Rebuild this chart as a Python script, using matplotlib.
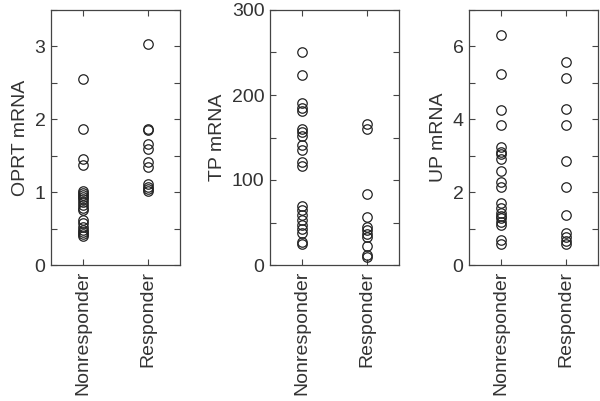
import numpy as np
import matplotlib.pyplot as plt
from matplotlib.ticker import MultipleLocator

plt.rcParams['font.family'] = ['Liberation Sans', 'DejaVu Sans']

groups = ['Nonresponder', 'Responder']

# OPRT mRNA
oprt_non = [2.55, 1.86, 1.45, 1.37, 1.02, 0.99, 0.96, 0.93, 0.90, 0.86, 0.82,
            0.78, 0.75, 0.62, 0.57, 0.52, 0.48, 0.45, 0.42, 0.40]
oprt_resp = [3.03, 1.87, 1.85, 1.66, 1.59, 1.42, 1.35, 1.11, 1.07, 1.04, 1.02]

# TP mRNA
tp_non = [250, 223, 190, 185, 181, 160, 156, 152, 141, 135, 121, 116,
          69, 65, 59, 53, 47, 42, 38, 27, 25]
tp_resp = [166, 160, 84, 57, 45, 41, 37, 33, 22, 12, 9]

# UP mRNA
up_non = [6.31, 5.23, 4.25, 3.83, 3.24, 3.10, 3.04, 2.90, 2.58, 2.28, 2.15,
          1.69, 1.56, 1.42, 1.34, 1.28, 1.19, 1.10, 0.70, 0.58]
up_resp = [5.56, 5.14, 4.27, 3.84, 2.86, 2.13, 1.37, 0.87, 0.76, 0.67, 0.59]

panels = [
    ('OPRT mRNA', oprt_non, oprt_resp, 3.5, 1, 0.5),
    ('TP mRNA', tp_non, tp_resp, 300, 100, 50),
    ('UP mRNA', up_non, up_resp, 7, 2, 1),
]
lefts = [51, 270, 469]
ink = '#333333'

fig = plt.figure(figsize=(6.0, 4.01), dpi=100)

for left, (label, non, resp, ymax, major, minor) in zip(lefts, panels):
    ax = fig.add_axes([left / 600, 136 / 401, 129 / 600, 255 / 401])
    for i, vals in enumerate([non, resp], start=1):
        ax.plot(np.full(len(vals), i), vals, 'o', mfc='none', mec='#222222',
                mew=0.9, ms=6.8, clip_on=False)
    ax.set_xlim(0.5, 2.5)
    ax.set_ylim(0, ymax)
    ax.set_xticks([1, 2])
    ax.set_xticklabels(groups, rotation=90, fontsize=14, color=ink)
    ax.yaxis.set_major_locator(MultipleLocator(major))
    ax.yaxis.set_minor_locator(MultipleLocator(minor))
    ax.tick_params(axis='both', which='both', direction='in', top=True,
                   right=True, length=4, width=0.8, color='#444444',
                   labelsize=14, labelcolor=ink, pad=4)
    ax.set_ylabel(label, fontsize=14, color=ink)
    for s in ax.spines.values():
        s.set_color('#444444')
        s.set_linewidth(0.9)

fig.savefig('out.png', dpi=100)
